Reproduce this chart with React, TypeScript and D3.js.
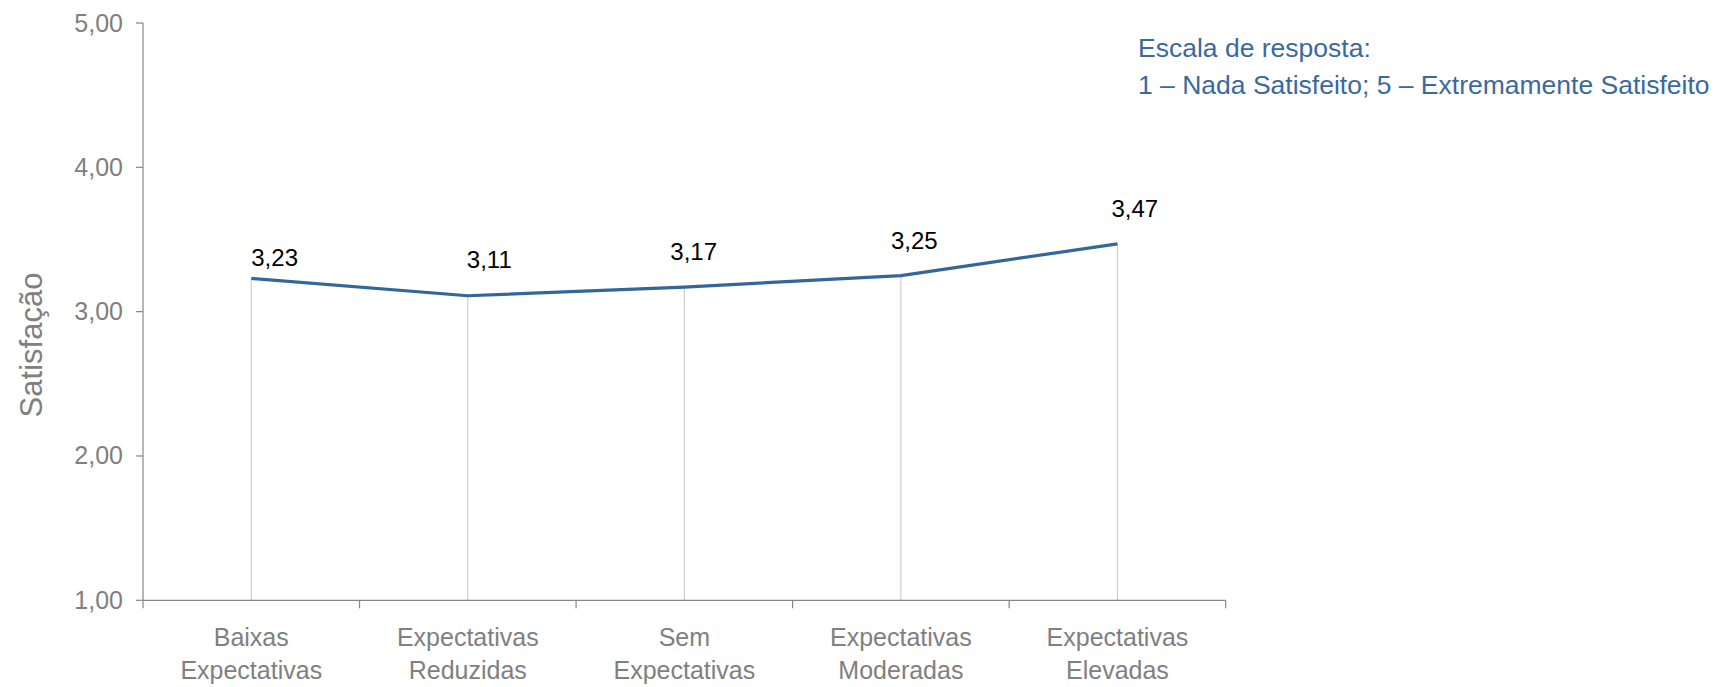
import React from "react";
import * as d3 from "d3";

const categories: string[][] = [
  ["Baixas", "Expectativas"],
  ["Expectativas", "Reduzidas"],
  ["Sem", "Expectativas"],
  ["Expectativas", "Moderadas"],
  ["Expectativas", "Elevadas"],
];
const values: number[] = [3.23, 3.11, 3.17, 3.25, 3.47];
const yTicks: number[] = [1, 2, 3, 4, 5];
const yTitle = "Satisfação";
const noteLines: string[] = [
  "Escala de resposta:",
  "1 – Nada Satisfeito; 5 – Extremamente Satisfeito",
];

// label nudges (layout only): [dx, dy above point]
const labelNudge: [number, number][] = [
  [0, 12],
  [-1, 28],
  [-14, 27],
  [-10, 27],
  [-6, 27],
];

const W = 1719;
const H = 687;
const left = 143;
const right = 1225.7;
const top = 23;
const bottom = 600.3;

const fmt = (v: number) => v.toFixed(2).replace(".", ",");
const FONT = "'Liberation Sans', Arial, Helvetica, sans-serif";

export default function App() {
  const idx = categories.map((_, i) => String(i));
  const x = d3.scaleBand<string>().domain(idx).range([left, right]).padding(0);
  const y = d3.scaleLinear().domain([1, 5]).range([bottom, top]);
  const cx = (i: number) => (x(String(i)) as number) + x.bandwidth() / 2;
  const line = d3
    .line<number>()
    .x((_, i) => cx(i))
    .y((d) => y(d));
  const boundaries = idx.map((k) => x(k) as number).concat([right]);

  return (
    <svg
      width={W}
      height={H}
      style={{ position: "absolute", left: 0, top: 0, display: "block", background: "#fff" }}
      fontFamily={FONT}
    >
      {/* drop lines */}
      {values.map((v, i) => (
        <line key={"d" + i} x1={cx(i)} x2={cx(i)} y1={y(v)} y2={bottom} stroke="#c6c6c6" strokeWidth={1} />
      ))}
      {/* y axis */}
      <line x1={left} x2={left} y1={top} y2={bottom} stroke="#868686" strokeWidth={1.2} />
      {yTicks.map((t) => (
        <g key={"yt" + t}>
          <line x1={left - 7} x2={left} y1={y(t)} y2={y(t)} stroke="#868686" strokeWidth={1.2} />
          <text x={123} y={y(t) + 8.5} textAnchor="end" fontSize={25} fill="#808080">
            {fmt(t)}
          </text>
        </g>
      ))}
      {/* x axis */}
      <line x1={left} x2={right} y1={bottom} y2={bottom} stroke="#868686" strokeWidth={1.2} />
      {boundaries.map((b, i) => (
        <line key={"xt" + i} x1={b} x2={b} y1={bottom} y2={bottom + 8} stroke="#868686" strokeWidth={1.2} />
      ))}
      {categories.map((c, i) => (
        <text key={"c" + i} x={cx(i)} textAnchor="middle" fontSize={25} fill="#808080">
          {c.map((ln, j) => (
            <tspan key={j} x={cx(i)} y={645.7 + j * 33.7}>
              {ln}
            </tspan>
          ))}
        </text>
      ))}
      {/* y title */}
      <text
        transform={`translate(42,345) rotate(-90)`}
        textAnchor="middle"
        fontSize={31}
        fill="#808080"
      >
        {yTitle}
      </text>
      {/* line */}
      <path d={line(values) || ""} fill="none" stroke="#336699" strokeWidth={3.2} strokeLinejoin="round" />
      {/* data labels */}
      {values.map((v, i) => (
        <text
          key={"l" + i}
          x={cx(i) + labelNudge[i][0]}
          y={y(v) - labelNudge[i][1]}
          textAnchor="start"
          fontSize={24}
          fill="#000"
        >
          {fmt(v)}
        </text>
      ))}
      {/* note */}
      {noteLines.map((t, i) => (
        <text key={"n" + i} x={1138} y={56.7 + i * 37.3} fontSize={26.5} fill="#3a699e">
          {t}
        </text>
      ))}
    </svg>
  );
}
